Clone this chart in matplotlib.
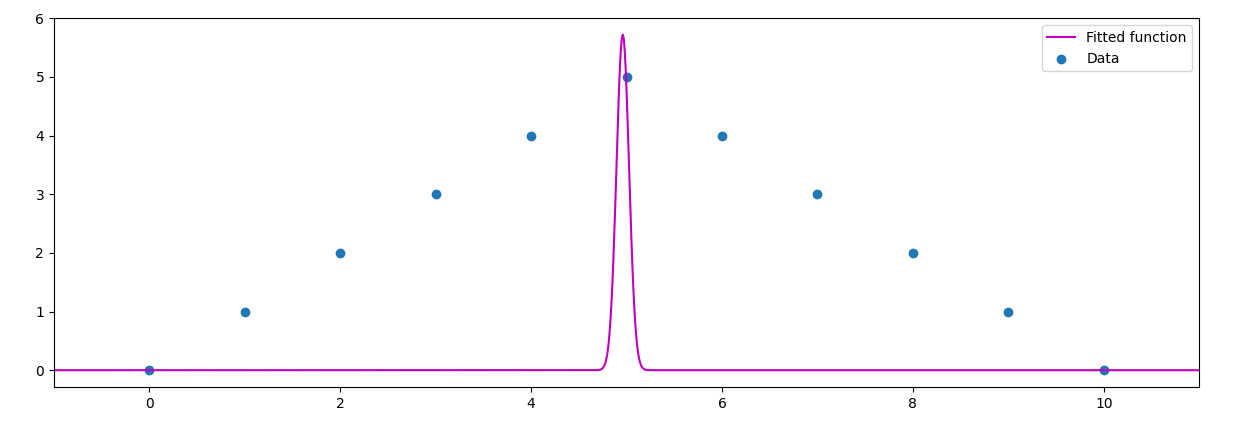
import matplotlib
matplotlib.use("Agg")
import matplotlib.pyplot as plt
import numpy as np

# data points
x_data = [0, 1, 2, 3, 4, 5, 6, 7, 8, 9, 10]
y_data = [0, 1, 2, 3, 4, 5, 4, 3, 2, 1, 0]

# fitted gaussian parameters
amp = 5.72
mu = 4.96
sigma = 0.066


def gauss(x, a, m, s):
    return a * np.exp(-(x - m) ** 2 / (2 * s ** 2))


x_fit = np.linspace(-1, 11, 1201)
y_fit = gauss(x_fit, amp, mu, sigma)

fig, ax = plt.subplots(figsize=(12.35, 4.23), dpi=100)
fig.subplots_adjust(left=0.0437, right=0.971, top=0.957, bottom=0.085)
ax.plot(x_fit, y_fit, color="m", label="Fitted function")
ax.scatter(x_data, y_data, label="Data")
ax.set_xlim(-1, 11)
ax.set_ylim(-0.287, 6.0)
ax.legend()
fig.savefig("out.png")
